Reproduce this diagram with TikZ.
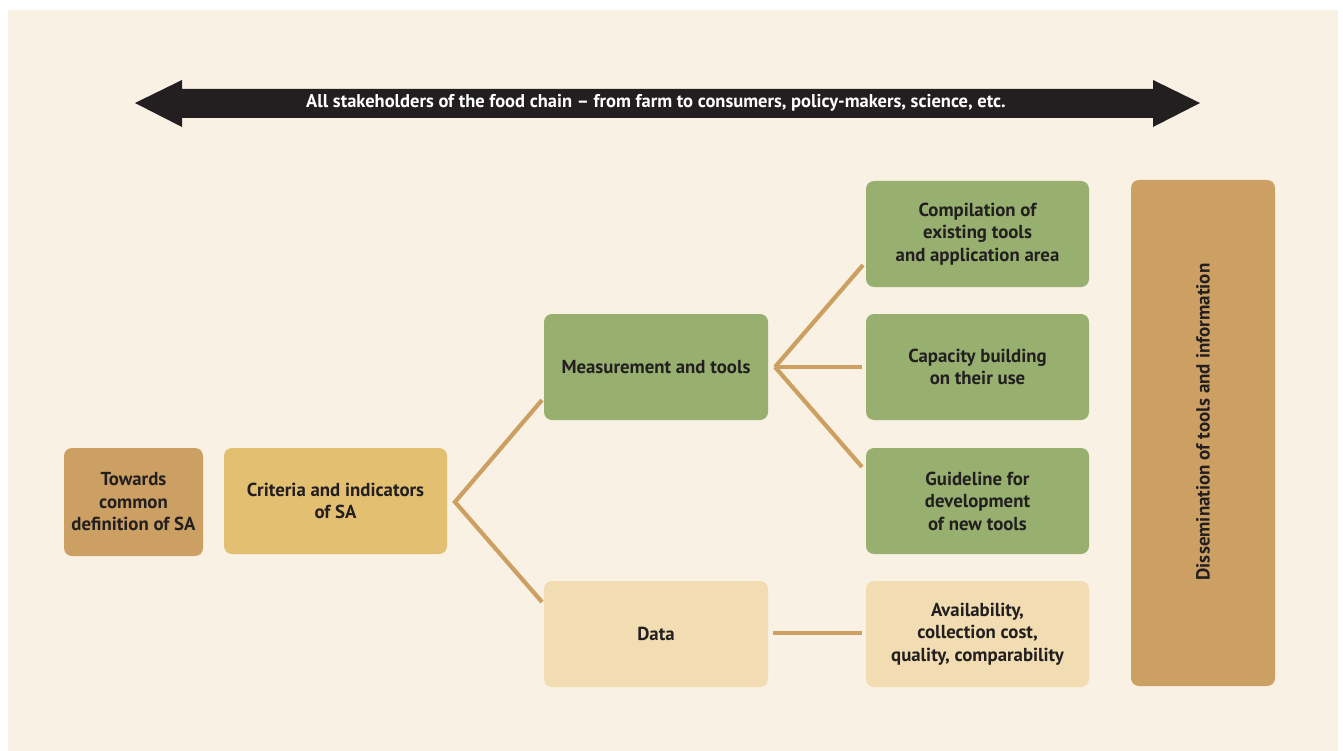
\documentclass[tikz,border=0pt]{standalone}
\usepackage{fontspec}
\setmainfont{PT Sans}
\definecolor{bgc}{HTML}{F9F1E3}
\definecolor{darkc}{HTML}{231F20}
\definecolor{tanc}{HTML}{CC9F62}
\definecolor{goldc}{HTML}{E3BF72}
\definecolor{greenc}{HTML}{97AF6F}
\definecolor{palec}{HTML}{F1DDB1}
\tikzset{
  box/.style={rounded corners=8pt, inner sep=0pt, align=center, text=darkc,
    font=\fontsize{18.8}{22.5}\selectfont\bfseries},
  link/.style={draw=tanc, line width=4.2pt}
}
\begin{document}
\begin{tikzpicture}[x=1pt,y=-1pt]
\useasboundingbox (0,0) rectangle (1343,751);
\fill[white] (0,0) rectangle (1343,751);
\fill[bgc] (8,10) rectangle (1338,751);
% top double arrow
\fill[darkc] (135,103) -- (182,80) -- (182,89) -- (1153,89) -- (1153,80) -- (1200,103)
  -- (1153,127) -- (1153,118) -- (182,118) -- (182,127) -- cycle;
\node[text=white, font=\fontsize{18.5}{20}\selectfont\bfseries] (stake) at (656,103)
  {All stakeholders of the food chain -- from farm to consumers, policy-makers, science, etc.};
% boxes
\node[box, fill=tanc, minimum width=139pt, minimum height=108pt] (tow) at (133.5,502)
  {Towards\\common\\definition of SA};
\node[box, fill=goldc, minimum width=223pt, minimum height=106pt] (crit) at (335.5,501)
  {Criteria and indicators\\of SA};
\node[box, fill=greenc, minimum width=224pt, minimum height=106pt] (meas) at (656,367)
  {Measurement and tools};
\node[box, fill=palec, minimum width=224pt, minimum height=106pt] (data) at (656,634)
  {Data};
\node[box, fill=greenc, minimum width=223pt, minimum height=106pt] (comp) at (977.5,234)
  {Compilation of\\existing tools\\and application area};
\node[box, fill=greenc, minimum width=223pt, minimum height=106pt] (cap) at (977.5,367)
  {Capacity building\\on their use};
\node[box, fill=greenc, minimum width=223pt, minimum height=106pt] (guide) at (977.5,501)
  {Guideline for\\development\\of new tools};
\node[box, fill=palec, minimum width=223pt, minimum height=106pt] (avail) at (977.5,634)
  {Availability,\\collection cost,\\quality, comparability};
\node[box, fill=tanc, minimum width=144pt, minimum height=506pt] (diss) at (1203,433) {};
\node[rotate=90, text=darkc, font=\fontsize{19}{20}\selectfont\bfseries] (disstext) at (1203,422)
  {Dissemination of tools and information};
% connectors
\coordinate (a1) at (455,502);
\coordinate (m1) at (542,400);
\coordinate (d1) at (542,602);
\coordinate (a2) at (775,367);
\coordinate (c2) at (863,265);
\coordinate (k2) at (862,367);
\coordinate (g2) at (862,467);
\coordinate (da) at (773,633);
\coordinate (av) at (862,633);
\draw[link] (m1) -- (a1) -- (d1);
\draw[link] (a2) -- (c2);
\draw[link] (a2) -- (k2);
\draw[link] (a2) -- (g2);
\draw[link] (da) -- (av);
\end{tikzpicture}
\end{document}
